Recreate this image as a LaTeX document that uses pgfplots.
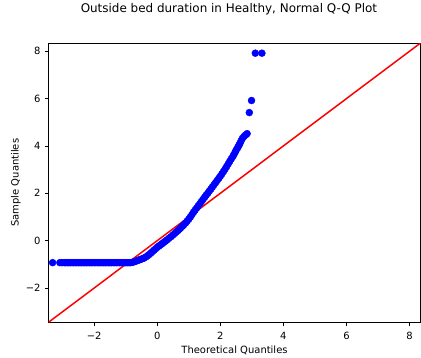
\documentclass[border=0pt]{standalone}
\usepackage{pgfplots}
\pgfplotsset{compat=1.18}
\usepackage{fontspec}
\setmainfont{DejaVu Sans}
\begin{document}
\begin{tikzpicture}
\begin{axis}[
  name=ax,
  at={(0,0)}, anchor=south west,
  scale only axis,
  width=372bp, height=279.3bp,
  xmin=-3.45, xmax=8.35, ymin=-3.45, ymax=8.35,
  axis line style={black, line width=0.8bp},
  tick align=outside,
  xtick pos=bottom, ytick pos=left,
  major tick length=3.5bp,
  tick style={black, line width=0.8bp},
  xtick={-2,0,2,4,6,8},
  xticklabels={−2,0,2,4,6,8},
  ytick={-2,0,2,4,6,8},
  yticklabels={−2,0,2,4,6,8},
  ticklabel style={font=\fontsize{10}{12}\selectfont},
  xticklabel style={anchor=base, yshift=-13.5bp},
  yticklabel style={anchor=east, xshift=-1bp},
  label style={font=\fontsize{10}{12}\selectfont},
  xlabel={Theoretical Quantiles},
  ylabel={Sample Quantiles},
  xlabel style={at={(axis description cs:0.5,-0.111)}, anchor=base},
  ylabel style={at={(axis description cs:-0.0806,0.5)}, anchor=base},
  title={Outside bed duration in Healthy, Normal Q-Q Plot},
  title style={font=\fontsize{12}{14}\selectfont, at={(axis description cs:0.485,1.088)}, anchor=base},
  clip=true,
]
\addplot[only marks, mark=*, mark size=3.5pt, mark options={fill=blue, draw=blue, line width=0.4bp}] coordinates {
(-3.32,-0.93) (-3.09,-0.93) (-3.02,-0.93) (-2.95,-0.93) (-2.90,-0.93) (-2.85,-0.93) (-2.80,-0.93) (-2.75,-0.93) (-2.70,-0.93)
(-2.65,-0.93) (-2.60,-0.93) (-2.55,-0.93) (-2.50,-0.93) (-2.45,-0.93) (-2.40,-0.93) (-2.35,-0.93) (-2.30,-0.93)
(-2.25,-0.93) (-2.20,-0.93) (-2.15,-0.93) (-2.10,-0.93) (-2.05,-0.93) (-2.00,-0.93) (-1.95,-0.93) (-1.90,-0.93)
(-1.85,-0.93) (-1.80,-0.93) (-1.75,-0.93) (-1.70,-0.93) (-1.65,-0.93) (-1.60,-0.93) (-1.55,-0.93) (-1.50,-0.93)
(-1.45,-0.93) (-1.40,-0.93) (-1.35,-0.93) (-1.30,-0.93) (-1.25,-0.93) (-1.20,-0.93) (-1.15,-0.93) (-1.10,-0.93)
(-1.05,-0.93) (-1.00,-0.93) (-0.95,-0.93) (-0.90,-0.93) (-0.85,-0.93)
(-0.80,-0.92) (-0.75,-0.90) (-0.70,-0.88) (-0.65,-0.85) (-0.60,-0.83) (-0.55,-0.80)
(-0.50,-0.78) (-0.45,-0.75) (-0.41,-0.73) (-0.35,-0.68) (-0.30,-0.63) (-0.25,-0.58)
(-0.20,-0.52) (-0.15,-0.46) (-0.10,-0.40) (-0.05,-0.34) (0.00,-0.28) (0.05,-0.23)
(0.10,-0.18) (0.15,-0.13) (0.20,-0.08) (0.25,-0.03) (0.30,0.02) (0.36,0.09)
(0.43,0.16) (0.49,0.23) (0.55,0.30) (0.60,0.36) (0.65,0.42) (0.70,0.48)
(0.75,0.55) (0.80,0.61) (0.85,0.68) (0.90,0.75) (0.95,0.83) (1.00,0.91)
(1.05,1.00) (1.10,1.10) (1.15,1.20) (1.20,1.29) (1.25,1.38) (1.30,1.47)
(1.35,1.56) (1.40,1.65) (1.45,1.74) (1.50,1.83) (1.55,1.92) (1.60,2.00)
(1.65,2.09) (1.70,2.18) (1.75,2.27) (1.80,2.36) (1.85,2.45) (1.90,2.54)
(1.95,2.63) (2.00,2.72) (2.05,2.82) (2.10,2.92) (2.15,3.02) (2.20,3.13)
(2.25,3.24) (2.30,3.35) (2.35,3.46) (2.40,3.56) (2.43,3.64) (2.47,3.73)
(2.50,3.82) (2.54,3.90) (2.57,3.98) (2.60,4.05) (2.62,4.10) (2.66,4.22)
(2.70,4.32) (2.75,4.40) (2.80,4.46) (2.85,4.52)
(2.92,5.41) (2.99,5.92) (3.11,7.92) (3.32,7.92)
};
\addplot[red, line width=1.5bp] coordinates {(-3.45,-3.45) (8.35,8.35)};
\end{axis}
\pgfresetboundingbox
\path (-48.5bp,-35.7bp) rectangle (372.5bp,322.3bp);
\end{tikzpicture}
\end{document}
